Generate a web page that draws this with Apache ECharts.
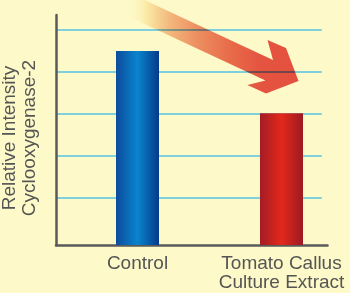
<!DOCTYPE html>
<html>
<head>
<meta charset="utf-8">
<script src="https://cdn.jsdelivr.net/npm/echarts@6/dist/echarts.min.js"></script>
<style>
html,body{margin:0;padding:0;background:#fef9c8;}
#chart{width:350px;height:293px;}
</style>
</head>
<body>
<div id="chart"></div>
<script>
// Data
const categories = ['Control', 'Tomato Callus\nCulture Extract'];
const values = [100, 68];           // relative intensity (Control = 100)
const gridTicks = [0, 1, 2, 3, 4, 5]; // gridline ticks
const yTitle = 'Relative Intensity\nCyclooxygenase-2';

const barColors = [
  ['#0c4c9c', '#0a84cd', '#063a8b'],
  ['#a31c24', '#e3281b', '#9c1a22']
];

function hGrad(c) {
  return {type: 'linear', x: 0, y: 0, x2: 1, y2: 0,
    colorStops: [{offset: 0, color: c[0]}, {offset: 0.5, color: c[1]}, {offset: 1, color: c[2]}]};
}

const chart = echarts.init(document.getElementById('chart'), null, {renderer: 'canvas'});
const font = "'Liberation Sans', Arial, Helvetica, sans-serif";

chart.setOption({
  backgroundColor: '#fef9c8',
  animation: false,
  grid: [
    {left: 65.5, top: 15, width: 288, bottom: 48, containLabel: false, outerBoundsMode: 'none'},      // bars
    {left: 56, top: 15, right: 22.5, bottom: 48, containLabel: false, outerBoundsMode: 'none'},        // axis lines
    {left: 56, top: 30, right: 28.3, bottom: 53, containLabel: false, outerBoundsMode: 'none'}         // gridlines
  ],
  xAxis: [
    {gridIndex: 0, type: 'category', data: categories,
      axisLine: {show: false}, axisTick: {show: false},
      axisLabel: {interval: 0, hideOverlap: false, color: '#555555', fontSize: 19, fontFamily: font, lineHeight: 19, margin: 9}},
    {gridIndex: 1, type: 'value', min: 0, max: 1,
      axisLine: {show: true, onZero: false, lineStyle: {color: '#5a5a5a', width: 2.5}},
      axisTick: {show: false}, axisLabel: {show: false}, splitLine: {show: false}},
    {gridIndex: 2, type: 'value', min: 0, max: 1, show: false}
  ],
  yAxis: [
    {gridIndex: 0, type: 'value', min: 0, max: 118.6, show: false},
    {gridIndex: 1, type: 'value', min: 0, max: 1,
      axisLine: {show: true, onZero: false, lineStyle: {color: '#5a5a5a', width: 2.5}},
      axisTick: {show: false}, axisLabel: {show: false}, splitLine: {show: false},
      name: yTitle, nameLocation: 'middle', nameRotate: 90, nameGap: 16,
      nameTextStyle: {color: '#555555', fontSize: 19, fontFamily: font, lineHeight: 20, padding: [0, 16, 0, 0]}},
    {gridIndex: 2, type: 'value', min: gridTicks[0], max: gridTicks[gridTicks.length - 1], interval: 1,
      axisLine: {show: false}, axisTick: {show: false}, axisLabel: {show: false},
      splitLine: {show: true, showMinLine: false, showMaxLine: true, lineStyle: {color: '#80cfdc', width: 2}}}
  ],
  series: [{
    type: 'bar', xAxisIndex: 0, yAxisIndex: 0, barWidth: 43, z: 3,
    data: values.map((v, i) => ({value: v, itemStyle: {color: hGrad(barColors[i])}}))
  }],
  graphic: [{
    type: 'polygon', z: 100,
    shape: {points: [[108, -17], [273, 60], [267.5, 40], [286, 48], [298.5, 81], [266, 93.5], [247.3, 85], [265.5, 80.5], [108, 7]]},
    style: {
      blend: 'multiply',
      fill: {type: 'linear', x: 0, y: 0, x2: 1, y2: 0, colorStops: [
        {offset: 0, color: 'rgba(255,255,255,0)'},
        {offset: 0.1, color: 'rgba(255,255,255,0)'},
        {offset: 0.2, color: 'rgba(252,240,212,1)'},
        {offset: 0.33, color: 'rgba(243,186,156,1)'},
        {offset: 0.48, color: 'rgba(237,143,120,1)'},
        {offset: 0.64, color: 'rgba(233,110,94,1)'},
        {offset: 0.8, color: 'rgba(229,86,82,1)'},
        {offset: 1, color: 'rgba(229,82,80,1)'}
      ]}
    }
  }]
});
</script>
</body>
</html>
